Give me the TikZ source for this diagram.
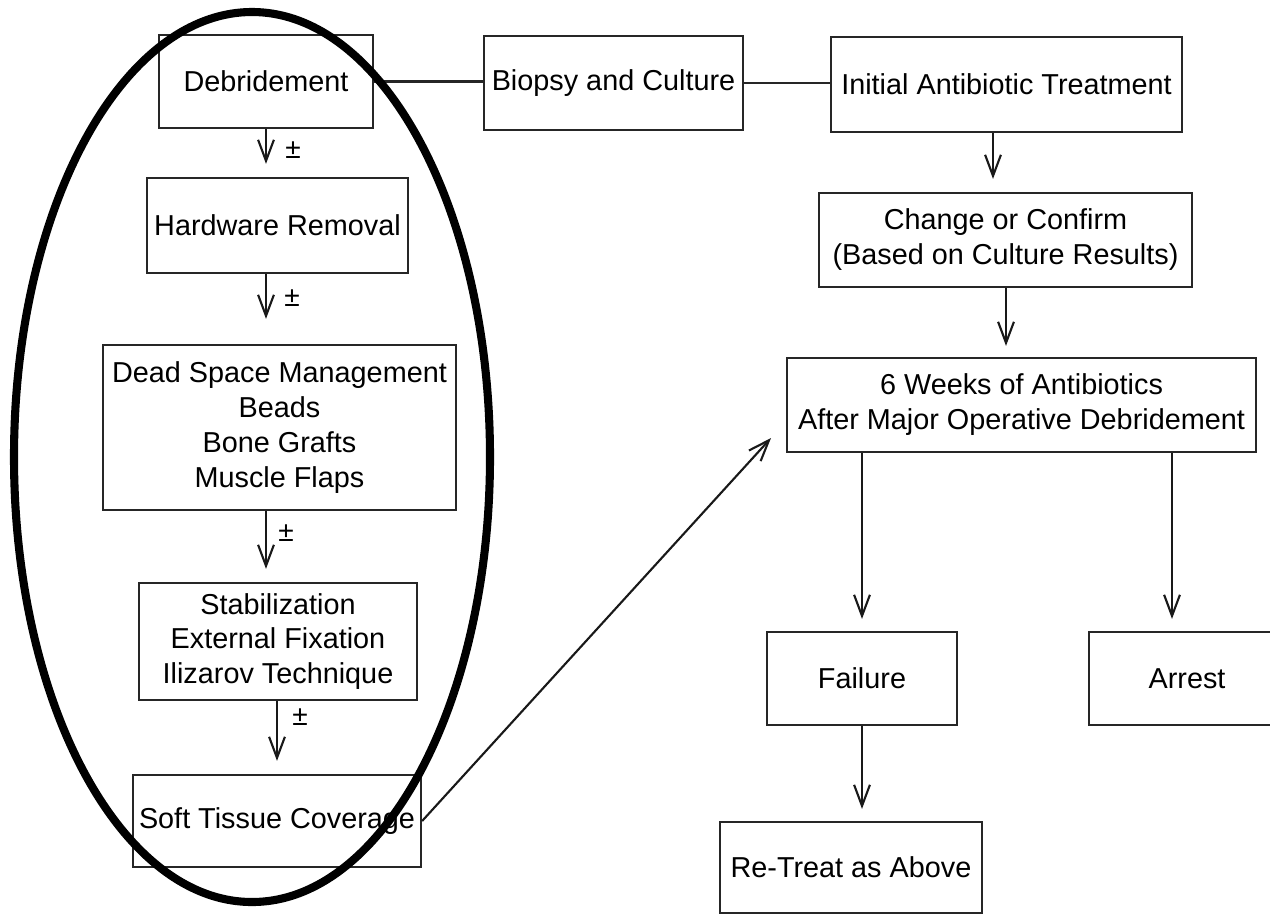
\documentclass[tikz,border=0pt]{standalone}
\usepackage{fontspec}
\setmainfont{Liberation Sans}
\usetikzlibrary{arrows.meta}
\tikzset{
  box/.style={draw=black!85, line width=1.3pt, rectangle, inner sep=0pt, align=center,
              font=\fontsize{16.4pt}{19.9pt}\selectfont},
  arr/.style={draw=black!90, line width=1.2pt, -{Straight Barb[length=12pt,width=9pt,line width=1.2pt]}},
  link/.style={draw=black!85, line width=1.3pt},
  pm/.style={font=\fontsize{16pt}{18pt}\selectfont, inner sep=0pt},
  ring/.style={draw=black, line width=4.6pt}
}
\begin{document}
\begin{tikzpicture}[x=0.02cm,y=-0.02cm]
\fill[white] (0,0) rectangle (1270,914);
\useasboundingbox (0,0) rectangle (1270,914);
\clip (0,0) rectangle (1270,914);

% left column
\node[box, minimum width=4.28cm, minimum height=1.86cm] (deb) at (266,81.5) {Debridement};
\node[box, minimum width=5.22cm, minimum height=1.90cm] (hw) at (277.5,225.5) {Hardware Removal};
\node[box, minimum width=7.06cm, minimum height=3.30cm] (dead) at (279.5,427.5) {Dead Space Management\\Beads\\Bone Grafts\\Muscle Flaps};
\node[box, minimum width=5.56cm, minimum height=2.34cm] (stab) at (278,641.5) {Stabilization\\External Fixation\\Ilizarov Technique};
\node[box, minimum width=5.76cm, minimum height=1.84cm] (soft) at (277,821) {Soft Tissue Coverage};

% right part
\node[box, minimum width=5.18cm, minimum height=1.88cm] (bio) at (613.5,83) {Biopsy and Culture};
\node[box, minimum width=7.02cm, minimum height=1.90cm] (iat) at (1006.5,84.5) {Initial Antibiotic Treatment};
\node[box, minimum width=7.46cm, minimum height=1.88cm] (chg) at (1005.5,240) {Change or Confirm\\(Based on Culture Results)};
\node[box, minimum width=9.38cm, minimum height=1.88cm] (six) at (1021.5,405) {6 Weeks of Antibiotics\\After Major Operative Debridement};
\node[box, minimum width=3.80cm, minimum height=1.86cm] (fail) at (862,678.5) {Failure};
\node[box, minimum width=3.92cm, minimum height=1.86cm] (arrest) at (1187,678.5) {Arrest};
\node[box, minimum width=5.24cm, minimum height=1.82cm] (ret) at (851,867.5) {Re-Treat as Above};

% horizontal links
\draw[link] (deb.east) -- (deb.east -| bio.west);
\draw[link] (bio.east) -- (bio.east -| iat.west);

% left arrows
\draw[arr] (deb.south) -- ([yshift=0.26cm]deb.south |- hw.north);
\draw[arr] (deb.south |- hw.south) -- ([yshift=0.5cm]deb.south |- dead.north);
\draw[arr] (deb.south |- dead.south) -- ([yshift=0.26cm]deb.south |- stab.north);
\coordinate (stx) at (277,0);
\draw[arr] (stx |- stab.south) -- ([yshift=0.26cm]stx |- soft.north);

\node[pm] (pm1) at (293,150) {±};
\node[pm] (pm2) at (292,298) {±};
\node[pm] (pm3) at (286,533) {±};
\node[pm] (pm4) at (300,717) {±};

% right arrows
\coordinate (iatx) at (993,0);
\coordinate (chgx) at (1006,0);
\draw[arr] (iatx |- iat.south) -- ([yshift=0.26cm]iatx |- chg.north);
\draw[arr] (chgx |- chg.south) -- ([yshift=0.22cm]chgx |- six.north);
\draw[arr] (fail.north |- six.south) -- ([yshift=0.24cm]fail.north);
\coordinate (arx) at (1172,0);
\draw[arr] (arx |- six.south) -- ([yshift=0.24cm]arx |- arrest.north);
\draw[arr] (fail.south) -- ([yshift=0.24cm]fail.south |- ret.north);

% diagonal arrow
\coordinate (diagtip) at (771,438);
\draw[arr] (soft.east) -- (diagtip);

% highlight ellipse
\draw[ring] (252,457) ellipse [x radius=238, y radius=445];
\end{tikzpicture}
\end{document}
